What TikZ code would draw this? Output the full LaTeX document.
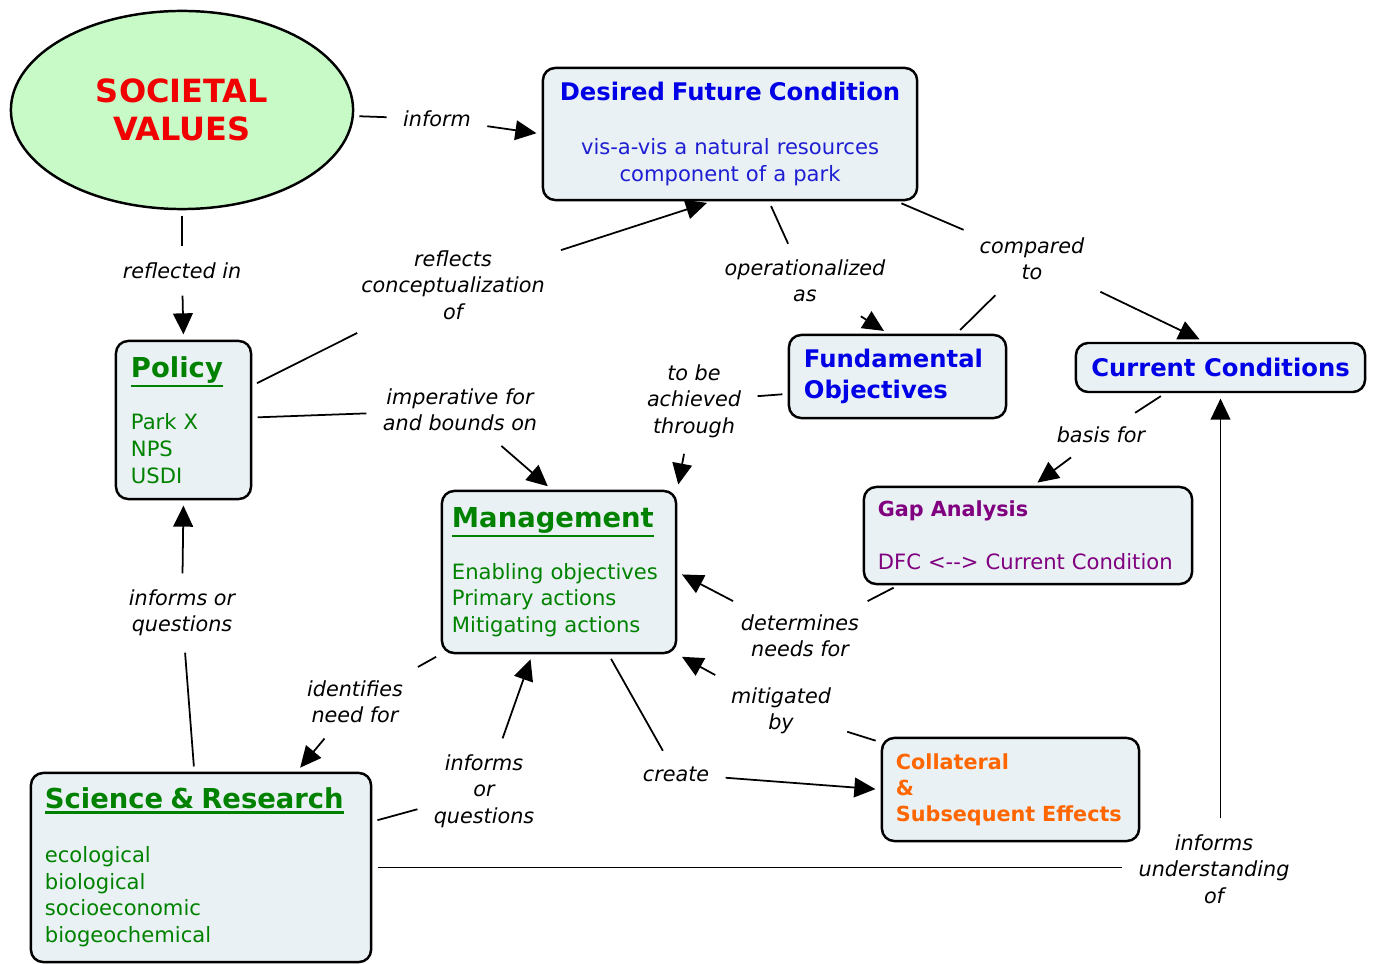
\documentclass[tikz,border=0pt]{standalone}
\usepackage{fontspec}
\setmainfont{DejaVu Sans}
\usetikzlibrary{arrows.meta,shapes.geometric}

\definecolor{boxfill}{RGB}{233,241,244}
\definecolor{svgreen}{RGB}{200,250,200}
\definecolor{svred}{RGB}{240,0,0}
\definecolor{titleblue}{RGB}{0,0,230}
\definecolor{dfcblue}{RGB}{30,30,210}
\definecolor{sgreen}{RGB}{0,130,0}
\definecolor{gpurple}{RGB}{128,0,128}
\definecolor{corange}{RGB}{255,102,0}

\newcommand\lblfont{\fontsize{5.9}{7.5}\selectfont\itshape}
\newcommand\bodyfont{\fontsize{6}{7.6}\selectfont}
\newcommand\headfont{\fontsize{7.8}{9.4}\selectfont\bfseries}
\newcommand\bluefont{\fontsize{6.9}{8.8}\selectfont\bfseries}
\newcommand\uln[1]{\vtop{\hbox{#1}\kern0.6pt\hrule height0.6pt}}

\tikzset{
  box/.style={draw, line width=0.7pt, rounded corners=3.5pt, fill=boxfill,
    inner xsep=0.15cm, inner ysep=0pt, align=left},
  lbl/.style={font=\lblfont, align=center, inner sep=3pt},
  link/.style={line width=0.5pt, shorten <=1.5pt, shorten >=1.5pt},
  arr/.style={link, -{Triangle[length=6pt,width=5.6pt]}}
}

\begin{document}
\begin{tikzpicture}[x=0.01cm,y=-0.01cm]
\useasboundingbox (0,0) rectangle (1376,964);

% concepts
\node[ellipse, draw, line width=0.7pt, fill=svgreen, minimum width=3.42cm,
  minimum height=1.98cm, inner sep=0pt, align=center, text=svred,
  font=\fontsize{9.1}{11}\selectfont\bfseries] (values) at (182,110) {SOCIETAL\\VALUES};
\node[box, align=center, text width=3.44cm, minimum width=3.74cm, minimum height=1.32cm,
  text=dfcblue, font=\bodyfont] (dfc) at (730,134)
  {{\bluefont\color{titleblue}Desired Future Condition}\\[7.7pt]
   vis-a-vis a natural resources\\component of a park};
\node[box, text width=1.05cm, minimum width=1.35cm, minimum height=1.58cm,
  text=sgreen, font=\bodyfont] (policy) at (183.5,420)
  {{\headfont\uln{Policy}}\\[7.4pt]Park X\\NPS\\USDI};
\node[box, text width=1.87cm, minimum width=2.17cm, minimum height=0.83cm,
  text=titleblue, font=\bluefont] (fundobj) at (897.5,376.5) {Fundamental\\Objectives};
\node[box, align=center, minimum width=2.89cm, minimum height=0.49cm,
  text=titleblue, font=\bluefont] (current) at (1220.5,367.5) {Current Conditions};
\node[box, text width=3.0cm, inner xsep=0.14cm, minimum width=3.28cm, minimum height=0.97cm,
  text=gpurple, font=\bodyfont] (gap) at (1028,535.5)
  {{\fontsize{5.9}{7.5}\selectfont\bfseries Gap Analysis}\\[7.4pt]
   \mbox{DFC <{}-{}-> Current Condition}};
\node[box, text width=2.14cm, inner xsep=0.10cm, minimum width=2.34cm, minimum height=1.62cm,
  text=sgreen, font=\bodyfont] (mgmt) at (559,572)
  {{\headfont\uln{Management}}\\[7.2pt]
   \mbox{Enabling objectives}\\Primary actions\\Mitigating actions};
\node[box, text width=3.12cm, inner xsep=0.14cm, minimum width=3.40cm, minimum height=1.89cm,
  text=sgreen, font=\bodyfont] (science) at (201,867.5)
  {{\headfont\uln{Science \& Research}}\\[7.6pt]
   ecological\\biological\\socioeconomic\\biogeochemical};
\node[box, text width=2.29cm, inner xsep=0.14cm, minimum width=2.57cm, minimum height=1.03cm,
  text=corange, font=\fontsize{5.9}{7.4}\selectfont\bfseries] (collateral) at (1010.5,789.5)
  {Collateral\\\&\\\mbox{Subsequent Effects}};

% linking phrases
\node[lbl] (inform) at (437,119) {inform};
\node[lbl] (reflectedin) at (182,271) {reflected in};
\node[lbl] (reflects) at (453,285) {reflects\\conceptualization\\of};
\node[lbl] (operational) at (805,281) {operationalized\\as};
\node[lbl] (compared) at (1032,259) {compared\\to};
\node[lbl] (imperative) at (460,410) {imperative for\\and bounds on};
\node[lbl] (tobe) at (694,401) {to be\\achieved\\through};
\node[lbl] (basis) at (1101,435) {basis for};
\node[lbl] (determines) at (800,636) {determines\\needs for};
\node[lbl] (mitigated) at (781,711) {mitigated\\by};
\node[lbl] (create) at (676,774) {create};
\node[lbl] (informsA) at (182,613) {informs or\\questions};
\node[lbl] (identifies) at (355,702) {identifies\\need for};
\node[lbl] (informsB) at (484,791) {informs\\or\\questions};
\node[lbl] (understanding) at (1214,869) {informs\\understanding\\of};

% links
\draw[link] (values) -- (inform);
\draw[arr] (inform) -- (dfc.west);
\draw[link] (values.south) -- (reflectedin);
\draw[arr] (reflectedin) -- (policy.north);
\draw[link] (policy) -- (reflects);
\draw[arr] (reflects) -- (dfc.255);
\draw[link] (dfc.-60) -- (operational);
\draw[arr] (operational) -- (fundobj.102);
\draw[link] (dfc.-22) -- (compared);
\draw[link] (fundobj.36) -- (compared);
\draw[arr] (compared) -- (current.122);
\draw[link] (policy) -- (imperative);
\draw[arr] (imperative) -- (mgmt.95);
\draw[link] (fundobj.189) -- (tobe);
\draw[arr] (tobe) -- (mgmt.north east);
\draw[link] (current.205) -- (basis);
\draw[arr] (basis) -- (gap.84);
\draw[link] (gap.201) -- (determines);
\draw[arr] (determines) -- (mgmt.east);
\draw[link] (collateral.160) -- (mitigated);
\draw[arr] (mitigated) -- (mgmt.south east);
\draw[link] (mgmt.-59) -- (create);
\draw[arr] (create) -- (collateral.west);
\draw[link] (science.94) -- (informsA);
\draw[arr] (informsA) -- (policy.south);
\draw[link] (mgmt.south west) -- (identifies);
\draw[arr] (identifies) -- (science.45);
\draw[link] (science.15) -- (informsB);
\draw[arr] (informsB) -- (mgmt.252);
\draw[link] (science.east) -- (science.east -| understanding.west);
\draw[arr] (understanding.north -| current.south) -- (current.south);
\end{tikzpicture}
\end{document}
